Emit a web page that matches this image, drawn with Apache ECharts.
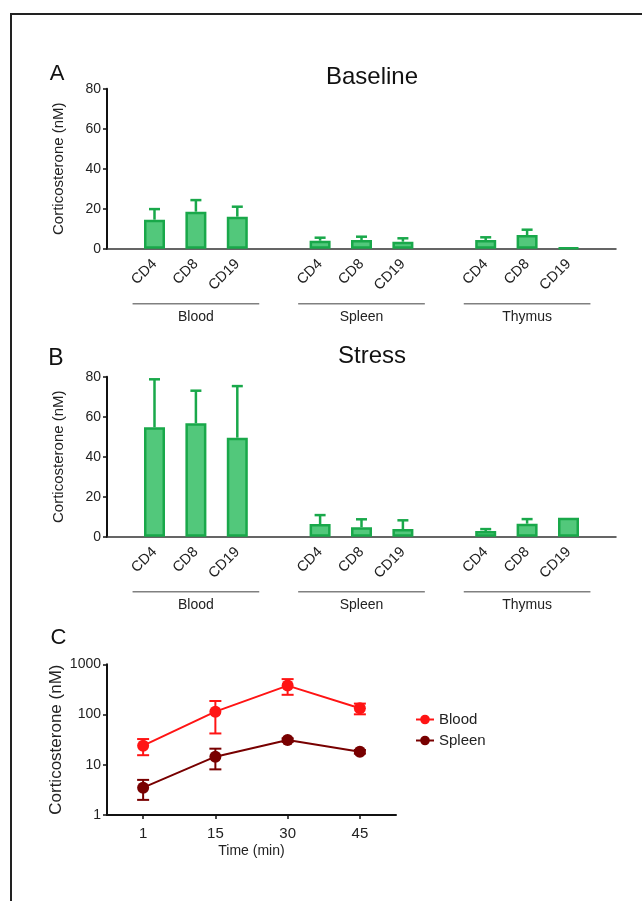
<!DOCTYPE html>
<html>
<head>
<meta charset="utf-8">
<script src="https://cdn.jsdelivr.net/npm/echarts@6/dist/echarts.min.js"></script>
<style>
html,body{margin:0;padding:0;background:#fff;}
#frame{position:absolute;left:10px;top:13px;right:0;bottom:0;border-top:2px solid #222;border-left:2px solid #222;}
#chart{position:absolute;left:0;top:0;width:642px;height:901px;}
</style>
</head>
<body>
<div id="frame"></div>
<div id="chart"></div>
<script>
// ---- data ----
const cellTypes = ['CD4', 'CD8', 'CD19'];
const tissues = ['Blood', 'Spleen', 'Thymus'];
// order: Blood CD4, CD8, CD19, Spleen CD4, CD8, CD19, Thymus CD4, CD8, CD19
const baselineMean = [14.5, 18.5, 16.0, 4.0, 4.3, 3.5, 4.3, 6.8, 0.5];
const baselineSD   = [5.3, 5.8, 5.0, 1.5, 1.7, 1.7, 1.4, 2.7, 0];
const stressMean   = [54.7, 56.7, 49.5, 6.3, 4.7, 3.8, 2.8, 6.5, 9.5];
const stressSD     = [24.0, 16.3, 25.8, 4.5, 4.0, 4.4, 1.0, 2.3, 0];
const barTicks = [0, 20, 40, 60, 80];

const timePoints = ['1', '15', '30', '45'];
const bloodMean  = [24, 114, 377, 133];
const bloodSD    = [8.5, 72, 130, 32];
const spleenMean = [3.5, 14.5, 31, 18.2];
const spleenSD   = [1.5, 6.4, 2.5, 1.5];

// ---- build slot layout (spacer slot between tissues) ----
const slots = [];
const slotIndexOf = [];
tissues.forEach((t, ti) => {
  cellTypes.forEach((c, ci) => { slotIndexOf.push(slots.length); slots.push(c); });
  if (ti < tissues.length - 1) slots.push('');
});
function barData(means) {
  const d = slots.map(() => '-');
  means.forEach((v, i) => { d[slotIndexOf[i]] = v; });
  return d;
}
function errData(means, sds) {
  return means.map((v, i) => [slotIndexOf[i], v, sds[i]]);
}
const groupData = tissues.map((t, ti) => [slotIndexOf[ti * 3], slotIndexOf[ti * 3 + 2], ti]);

const FONT = "'Liberation Sans', Arial, sans-serif";
const GREEN_FILL = '#52c87b';
const GREEN_LINE = '#19a84a';
const RED = '#ff1414';
const DARKRED = '#780000';

const chart = echarts.init(document.getElementById('chart'), null, {renderer: 'canvas'});

const BAR_TOPS = [88.7, 376.7];
const BAR_H = 160;
const FRAME_LEFT = 107, FRAME_W = 509;
const SLOT = 41.4;
const BARS_LEFT = 133.8, BARS_W = SLOT * 11;

function upperErr(params, api) {
  const sd = api.value(2);
  if (!sd) return null;
  const top = api.coord([api.value(0), api.value(1)]);
  const hi = api.coord([api.value(0), api.value(1) + sd]);
  const hw = 5.5;
  return {
    type: 'group',
    children: [
      {type: 'line', shape: {x1: top[0], y1: top[1], x2: hi[0], y2: hi[1]}, style: {stroke: GREEN_LINE, lineWidth: 2.5}},
      {type: 'line', shape: {x1: hi[0] - hw, y1: hi[1], x2: hi[0] + hw, y2: hi[1]}, style: {stroke: GREEN_LINE, lineWidth: 2.5}}
    ]
  };
}
function bothErr(color) {
  return function (params, api) {
    const x = api.value(0), m = api.value(1), sd = api.value(2);
    const lo = api.coord([x, Math.max(m - sd, 1e-6)]);
    const hi = api.coord([x, m + sd]);
    const hw = 6;
    return {
      type: 'group',
      children: [
        {type: 'line', shape: {x1: lo[0], y1: lo[1], x2: hi[0], y2: hi[1]}, style: {stroke: color, lineWidth: 2}},
        {type: 'line', shape: {x1: hi[0] - hw, y1: hi[1], x2: hi[0] + hw, y2: hi[1]}, style: {stroke: color, lineWidth: 2}},
        {type: 'line', shape: {x1: lo[0] - hw, y1: lo[1], x2: lo[0] + hw, y2: lo[1]}, style: {stroke: color, lineWidth: 2}}
      ]
    };
  };
}
function groupRender(params, api) {
  const p0 = api.coord([api.value(0), 0]);
  const p1 = api.coord([api.value(1), 0]);
  const slot = api.size([1, 0])[0];
  const x0 = p0[0] - 0.53 * slot, x1 = p1[0] + 0.53 * slot;
  return {
    type: 'group',
    children: [
      {type: 'line', shape: {x1: x0, y1: p0[1] + 55, x2: x1, y2: p0[1] + 55}, style: {stroke: '#808080', lineWidth: 1.5}},
      {type: 'text', x: (p0[0] + p1[0]) / 2, y: p0[1] + 68,
        style: {text: tissues[api.value(2)], fill: '#222', font: '14px ' + FONT, align: 'center', verticalAlign: 'middle'}}
    ]
  };
}

const grids = [], xAxes = [], yAxes = [], series = [];
[[baselineMean, baselineSD], [stressMean, stressSD]].forEach((pair, pi) => {
  const top = BAR_TOPS[pi];
  const gF = grids.length;
  grids.push({left: FRAME_LEFT, top: top, width: FRAME_W, height: BAR_H});
  grids.push({left: BARS_LEFT, top: top, width: BARS_W, height: BAR_H});
  xAxes.push({gridIndex: gF, type: 'value', min: 0, max: 1,
    axisLine: {show: true, lineStyle: {color: '#333', width: 1.5}},
    axisTick: {show: false}, axisLabel: {show: false}, splitLine: {show: false}});
  xAxes.push({gridIndex: gF + 1, type: 'category', data: slots, boundaryGap: true,
    axisLine: {show: false}, axisTick: {show: false}, splitLine: {show: false},
    axisLabel: {interval: 0, rotate: 45, margin: 13, color: '#222', fontSize: 14.5, fontFamily: FONT}});
  yAxes.push({gridIndex: gF, type: 'value', min: barTicks[0], max: barTicks[barTicks.length - 1], interval: barTicks[1] - barTicks[0],
    name: 'Corticosterone (nM)', nameLocation: 'middle', nameGap: 41,
    nameTextStyle: {color: '#222', fontSize: 15, fontFamily: FONT},
    axisLine: {show: true, lineStyle: {color: '#111', width: 2}},
    axisTick: {show: true, length: 4, lineStyle: {color: '#111', width: 1.5}},
    axisLabel: {color: '#222', fontSize: 14, fontFamily: FONT, margin: 6},
    splitLine: {show: false}});
  yAxes.push({gridIndex: gF + 1, type: 'value', min: barTicks[0], max: barTicks[barTicks.length - 1], show: false, splitLine: {show: false}});
  series.push({type: 'bar', xAxisIndex: gF + 1, yAxisIndex: gF + 1, data: barData(pair[0]), barWidth: 21,
    itemStyle: {color: GREEN_FILL, borderColor: GREEN_LINE, borderWidth: 2.5}, z: 3});
  series.push({type: 'custom', xAxisIndex: gF + 1, yAxisIndex: gF + 1, data: errData(pair[0], pair[1]),
    renderItem: upperErr, z: 2});
  series.push({type: 'custom', xAxisIndex: gF + 1, yAxisIndex: gF + 1, data: groupData,
    renderItem: groupRender, clip: false, z: 2, silent: true});
});

// panel C
const gC = grids.length;
grids.push({left: 107, top: 664.3, width: 289, height: 150.7});
xAxes.push({gridIndex: gC, type: 'category', data: timePoints, boundaryGap: true,
  name: 'Time (min)', nameLocation: 'middle', nameGap: 29,
  nameTextStyle: {color: '#222', fontSize: 14, fontFamily: FONT},
  axisLine: {show: true, lineStyle: {color: '#111', width: 2}},
  axisTick: {show: true, alignWithLabel: true, length: 4, lineStyle: {color: '#111', width: 1.5}},
  axisLabel: {color: '#222', fontSize: 15, fontFamily: FONT, margin: 11}});
yAxes.push({gridIndex: gC, type: 'log', logBase: 10, min: 1, max: 1000,
  name: 'Corticosterone (nM)', nameLocation: 'middle', nameGap: 42,
  nameTextStyle: {color: '#222', fontSize: 17, fontFamily: FONT},
  axisLine: {show: true, lineStyle: {color: '#111', width: 2}},
  axisTick: {show: true, length: 4, lineStyle: {color: '#111', width: 1.5}},
  axisLabel: {color: '#222', fontSize: 14, fontFamily: FONT, margin: 6, formatter: v => String(Math.round(v))},
  splitLine: {show: false}, minorTick: {show: false}});
[['Blood', bloodMean, bloodSD, RED], ['Spleen', spleenMean, spleenSD, DARKRED]].forEach(s => {
  series.push({type: 'line', name: s[0], xAxisIndex: gC, yAxisIndex: gC, data: s[1],
    symbol: 'circle', symbolSize: 12, lineStyle: {color: s[3], width: 2},
    itemStyle: {color: s[3]}, z: 4});
  series.push({type: 'custom', name: s[0] + ' SD', xAxisIndex: gC, yAxisIndex: gC,
    data: s[1].map((v, i) => [i, v, s[2][i]]), renderItem: bothErr(s[3]), z: 3});
});

chart.setOption({
  animation: false,
  backgroundColor: 'transparent',
  textStyle: {fontFamily: FONT},
  grid: grids, xAxis: xAxes, yAxis: yAxes, series: series,
  legend: {data: ['Blood', 'Spleen'], orient: 'vertical', left: 410, top: 707, itemWidth: 18, itemHeight: 12, itemGap: 6,
    textStyle: {color: '#222', fontSize: 15, fontFamily: FONT}},
  graphic: [
    {type: 'text', x: 57, y: 74, style: {text: 'A', font: '22px ' + FONT, fill: '#111', align: 'center', verticalAlign: 'middle'}},
    {type: 'text', x: 56, y: 359, style: {text: 'B', font: '23px ' + FONT, fill: '#111', align: 'center', verticalAlign: 'middle'}},
    {type: 'text', x: 58.5, y: 638, style: {text: 'C', font: '22px ' + FONT, fill: '#111', align: 'center', verticalAlign: 'middle'}},
    {type: 'text', x: 372, y: 77, style: {text: 'Baseline', font: '24px ' + FONT, fill: '#111', align: 'center', verticalAlign: 'middle'}},
    {type: 'text', x: 372, y: 356, style: {text: 'Stress', font: '24px ' + FONT, fill: '#111', align: 'center', verticalAlign: 'middle'}}
  ]
});
</script>
</body>
</html>
